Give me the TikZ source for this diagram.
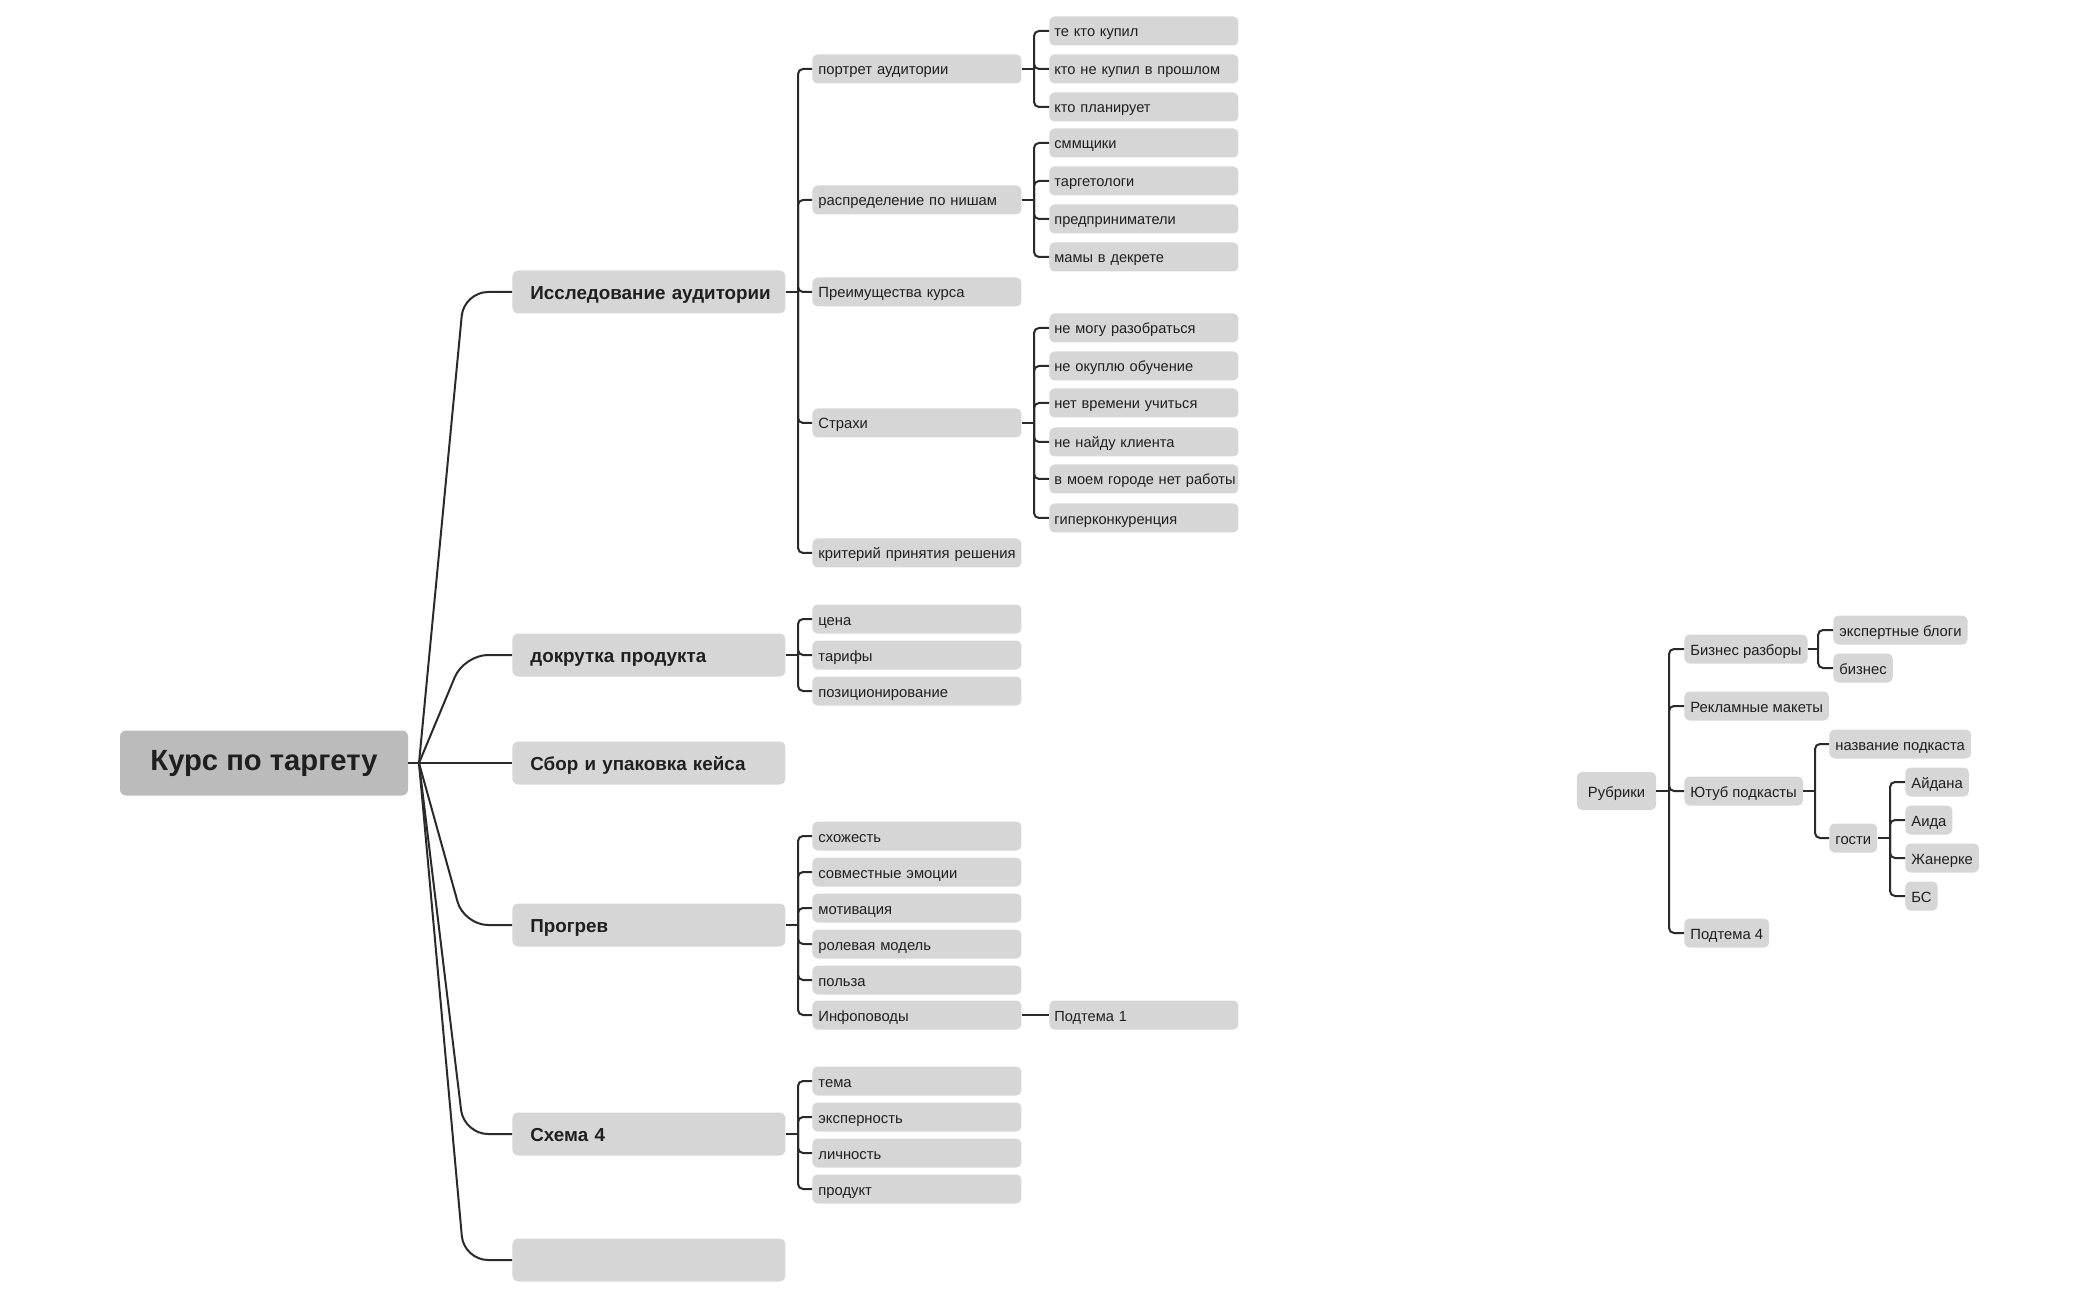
\documentclass[tikz,border=0pt]{standalone}
\usepackage{fontspec}
\setmainfont{Liberation Sans}
\definecolor{boxgray}{HTML}{D6D6D6}
\definecolor{rootgray}{HTML}{BBBBBB}
\definecolor{linec}{HTML}{2A2A2A}
\definecolor{txt}{HTML}{1F1F1F}
\tikzset{
  base/.style={fill=boxgray, text=txt, rounded corners=2.5pt, inner ysep=0pt, text height=0.92em, text depth=0.2em},
  small/.style={text height=0.8em, text depth=0.2em},
  padleft/.style={inner xsep=0pt, align=left, execute at begin node={\noindent\hspace*{#1}\hbox\bgroup}, execute at end node={\egroup}},
  rootbox/.style={base, fill=rootgray, minimum width=144pt, minimum height=32.5pt, font=\fontsize{14.6}{16}\selectfont\bfseries, rounded corners=3pt},
  lone/.style={base, anchor=west, text width=136.5pt, padleft=9pt, minimum height=21.5pt, font=\fontsize{9.4}{11}\selectfont\bfseries, rounded corners=3pt},
  ltwo/.style={base, small, anchor=west, text width=104.5pt, padleft=3pt, minimum height=14.5pt, font=\fontsize{7.4}{9}\selectfont},
  lthree/.style={base, small, anchor=west, text width=94.5pt, padleft=2.5pt, minimum height=14.5pt, font=\fontsize{7.3}{9}\selectfont},
  rbox/.style={base, small, anchor=west, inner xsep=3pt, minimum height=14.5pt, font=\fontsize{7.4}{9}\selectfont},
  conn/.style={draw=linec, line width=1pt, rounded corners=2.5pt},
  bigconn/.style={draw=linec, line width=1pt, rounded corners=12pt},
}
\begin{document}
\begin{tikzpicture}[x=0.5pt, y=-0.5pt]
\useasboundingbox (0,0) rectangle (2100,1299);

% root
\node[rootbox] (root) at (264,763) {Курс по таргету};
\coordinate (rj) at (419,763);

% level 1
\node[lone] (A) at (512,292) {Исследование аудитории};
\node[lone] (B) at (512,655) {докрутка продукта};
\node[lone] (C) at (512,763) {Сбор и упаковка кейса};
\node[lone] (D) at (512,925) {Прогрев};
\node[lone] (E) at (512,1134) {Схема 4};
\node[lone] (F) at (512,1260) {};

\draw[conn] (root.east) -- (rj);
\foreach \n in {A,B,C,D,E,F}{
  \draw[bigconn] (rj) -- (464,0 |- \n.west) -- (\n.west);
}

% level 2
\node[ltwo] (a1) at (812,69) {портрет аудитории};
\node[ltwo] (a2) at (812,200) {распределение по нишам};
\node[ltwo] (a3) at (812,292) {Преимущества курса};
\node[ltwo] (a4) at (812,423) {Страхи};
\node[ltwo] (a5) at (812,553) {критерий принятия решения};
\node[ltwo] (b1) at (812,619) {цена};
\node[ltwo] (b2) at (812,655) {тарифы};
\node[ltwo] (b3) at (812,691) {позиционирование};
\node[ltwo] (d1) at (812,836) {схожесть};
\node[ltwo] (d2) at (812,872) {совместные эмоции};
\node[ltwo] (d3) at (812,908) {мотивация};
\node[ltwo] (d4) at (812,944) {ролевая модель};
\node[ltwo] (d5) at (812,980) {польза};
\node[ltwo] (d6) at (812,1015) {Инфоповоды};
\node[ltwo] (e1) at (812,1081) {тема};
\node[ltwo] (e2) at (812,1117) {эксперность};
\node[ltwo] (e3) at (812,1153) {личность};
\node[ltwo] (e4) at (812,1189) {продукт};

\coordinate (Aj) at (798,292);
\coordinate (Bj) at (798,655);
\coordinate (Dj) at (798,925);
\coordinate (Ej) at (798,1134);
\draw[conn] (A.east) -- (Aj);
\draw[conn] (B.east) -- (Bj);
\draw[conn] (D.east) -- (Dj);
\draw[conn] (E.east) -- (Ej);
\foreach \c in {a1,a2,a3,a4,a5}{\draw[conn] (Aj) |- (\c.west);}
\foreach \c in {b1,b2,b3}{\draw[conn] (Bj) |- (\c.west);}
\foreach \c in {d1,d2,d3,d4,d5,d6}{\draw[conn] (Dj) |- (\c.west);}
\foreach \c in {e1,e2,e3,e4}{\draw[conn] (Ej) |- (\c.west);}

% level 3
\node[lthree] (p1) at (1049,31) {те кто купил};
\node[lthree] (p2) at (1049,69) {кто не купил в прошлом};
\node[lthree] (p3) at (1049,107) {кто планирует};
\node[lthree] (n1) at (1049,143) {сммщики};
\node[lthree] (n2) at (1049,181) {таргетологи};
\node[lthree] (n3) at (1049,219) {предприниматели};
\node[lthree] (n4) at (1049,257) {мамы в декрете};
\node[lthree] (s1) at (1049,328) {не могу разобраться};
\node[lthree] (s2) at (1049,366) {не окуплю обучение};
\node[lthree] (s3) at (1049,403) {нет времени учиться};
\node[lthree] (s4) at (1049,442) {не найду клиента};
\node[lthree] (s5) at (1049,479) {в моем городе нет работы};
\node[lthree] (s6) at (1049,518) {гиперконкуренция};
\node[lthree] (t1) at (1049,1015) {Подтема 1};

\coordinate (a1j) at (1034,69);
\coordinate (a2j) at (1034,200);
\coordinate (a4j) at (1034,423);
\draw[conn] (a1.east) -- (a1j);
\draw[conn] (a2.east) -- (a2j);
\draw[conn] (a4.east) -- (a4j);
\foreach \c in {p1,p2,p3}{\draw[conn] (a1j) |- (\c.west);}
\foreach \c in {n1,n2,n3,n4}{\draw[conn] (a2j) |- (\c.west);}
\foreach \c in {s1,s2,s3,s4,s5,s6}{\draw[conn] (a4j) |- (\c.west);}
\draw[conn] (d6.east) -- (t1.west);

% right cluster
\node[rbox, anchor=center, inner xsep=5.5pt, minimum height=19pt] (rub) at (1616.5,791) {Рубрики};
\node[rbox] (r1) at (1684,649) {Бизнес разборы};
\node[rbox] (r2) at (1684,706) {Рекламные макеты};
\node[rbox] (r3) at (1684,791) {Ютуб подкасты};
\node[rbox] (r4) at (1684,933) {Подтема 4};
\node[rbox] (q1) at (1833,630) {экспертные блоги};
\node[rbox] (q2) at (1833,668) {бизнес};
\node[rbox] (y1) at (1829,744) {название подкаста};
\node[rbox] (y2) at (1829,838) {гости};
\node[rbox] (g1) at (1905,782) {Айдана};
\node[rbox] (g2) at (1905,820) {Аида};
\node[rbox] (g3) at (1905,858) {Жанерке};
\node[rbox] (g4) at (1905,896) {БС};

\coordinate (rubj) at (1669,791);
\coordinate (r1j) at (1818,649);
\coordinate (r3j) at (1815,791);
\coordinate (y2j) at (1890,838);
\draw[conn] (rub.east) -- (rubj);
\draw[conn] (r1.east) -- (r1j);
\draw[conn] (r3.east) -- (r3j);
\draw[conn] (y2.east) -- (y2j);
\foreach \c in {r1,r2,r3,r4}{\draw[conn] (rubj) |- (\c.west);}
\foreach \c in {q1,q2}{\draw[conn] (r1j) |- (\c.west);}
\foreach \c in {y1,y2}{\draw[conn] (r3j) |- (\c.west);}
\foreach \c in {g1,g2,g3,g4}{\draw[conn] (y2j) |- (\c.west);}
\end{tikzpicture}
\end{document}
